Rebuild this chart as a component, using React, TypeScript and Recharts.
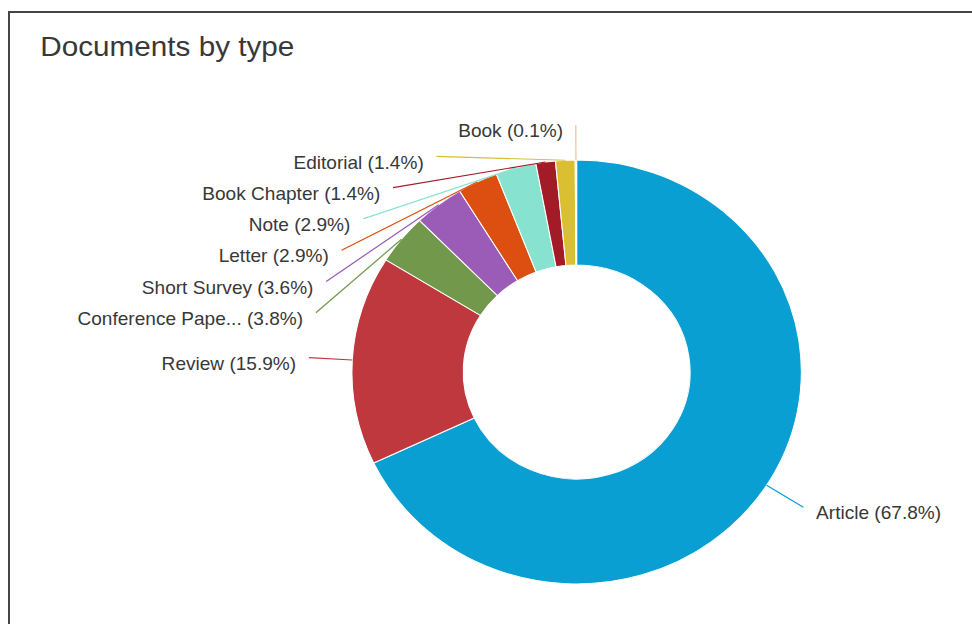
import React from 'react';
import { PieChart, Pie, Cell } from 'recharts';

// ---- data ----
const categories = [
  'Article',
  'Review',
  'Conference Paper',
  'Short Survey',
  'Letter',
  'Note',
  'Book Chapter',
  'Editorial',
  'Book',
];
const shares = [67.8, 15.9, 3.8, 3.6, 2.9, 2.9, 1.4, 1.4, 0.1];
const colors = [
  '#0a9fd2',
  '#bf383d',
  '#72994b',
  '#9a5cb6',
  '#dc4f10',
  '#88e2d0',
  '#a41b28',
  '#dbbf33',
  '#f0c7a0',
];
const title = 'Documents by type';

const data = categories.map((name, i) => ({ name, value: shares[i] }));

// ---- layout ----
const SX = 1.06; // reference is slightly stretched horizontally
const W = 972;
const H = 624;
const CX = 544;
const CY = 372;
const INNER = 107;
const OUTER = 212;
const LABEL_R = 253;
const LABEL_TOP = 125;
const LABEL_GAP = 31.3;
const RAD = Math.PI / 180;
const FONT = '"Liberation Sans", Arial, sans-serif';

const truncate = (s: string, n = 15) => (s.length > n ? s.slice(0, n) + '...' : s);

type LabelPos = { i: number; ix: number; iy: number; left: boolean; x: number; y: number };

function computeLayout(): LabelPos[] {
  const total = shares.reduce((a, b) => a + b, 0);
  let cum = 0;
  const items: LabelPos[] = shares.map((v, i) => {
    const mid = 90 - (360 * (cum + v / 2)) / total;
    cum += v;
    const ix = CX + LABEL_R * Math.cos(mid * RAD);
    const iy = CY - LABEL_R * Math.sin(mid * RAD);
    return { i, ix, iy, left: ix < CX - 0.01, x: ix, y: iy };
  });
  const left = items.filter((d) => d.left).sort((a, b) => a.iy - b.iy);
  let prev = -Infinity;
  left.forEach((d, k) => {
    const lower = k === 0 ? LABEL_TOP : prev + LABEL_GAP;
    d.y = Math.max(d.iy, lower);
    const clampedByTop = k === 0 && d.iy < LABEL_TOP;
    if (clampedByTop) {
      d.x = d.ix;
    } else {
      const dy = d.y - CY;
      d.x = CX - Math.sqrt(Math.max(0, LABEL_R * LABEL_R - dy * dy));
    }
    prev = d.y;
  });
  return items;
}

const layout = computeLayout();

const renderLabel = (props: any) => {
  const { cx, cy, midAngle, outerRadius, index } = props;
  const L = layout[index];
  if (!L) return null;
  const ex = cx + outerRadius * Math.cos(-midAngle * RAD);
  const ey = cy + outerRadius * Math.sin(-midAngle * RAD);
  const text = `${truncate(categories[index])} (${shares[index].toFixed(1)}%)`;
  return (
    <g key={`lbl-${index}`}>
      <path
        d={`M${L.x},${L.y}L${ex},${ey}`}
        stroke={colors[index]}
        strokeWidth={1.2}
        fill="none"
      />
      <text
        x={L.left ? L.x - 12 : L.x + 12}
        y={L.y + 6}
        textAnchor={L.left ? 'end' : 'start'}
        dominantBaseline="central"
        fontSize={18}
        fontFamily={FONT}
        fill="#383838"
      >
        {text}
      </text>
    </g>
  );
};

export default function App() {
  return (
    <div
      style={{
        position: 'absolute',
        left: 0,
        top: 0,
        width: W,
        height: H,
        overflow: 'hidden',
        background: '#ffffff',
      }}
    >
      <div
        style={{
          position: 'absolute',
          left: 8,
          top: 11,
          width: 1000,
          height: 700,
          border: '2px solid #454545',
          boxSizing: 'border-box',
        }}
      />
      <div
        style={{
          position: 'absolute',
          left: 0,
          top: 0,
          width: W / SX,
          height: H,
          transform: `scaleX(${SX})`,
          transformOrigin: '0 0',
        }}
      >
        <div
          style={{
            position: 'absolute',
            left: 38,
            top: 33,
            fontFamily: FONT,
            fontSize: 28,
            lineHeight: 1,
            color: '#383838',
            whiteSpace: 'nowrap',
          }}
        >
          {title}
        </div>
        <PieChart
          width={Math.round(W / SX)}
          height={H}
          margin={{ top: 0, right: 0, bottom: 0, left: 0 }}
          style={{ position: 'absolute', left: 0, top: 0 }}
        >
          <Pie
            data={data}
            dataKey="value"
            nameKey="name"
            cx={CX}
            cy={CY}
            innerRadius={INNER}
            outerRadius={OUTER}
            startAngle={90}
            endAngle={-270}
            stroke="#ffffff"
            strokeWidth={1}
            label={renderLabel}
            labelLine={false}
            isAnimationActive={false}
          >
            {data.map((d, i) => (
              <Cell key={d.name} fill={colors[i]} />
            ))}
          </Pie>
        </PieChart>
      </div>
    </div>
  );
}
